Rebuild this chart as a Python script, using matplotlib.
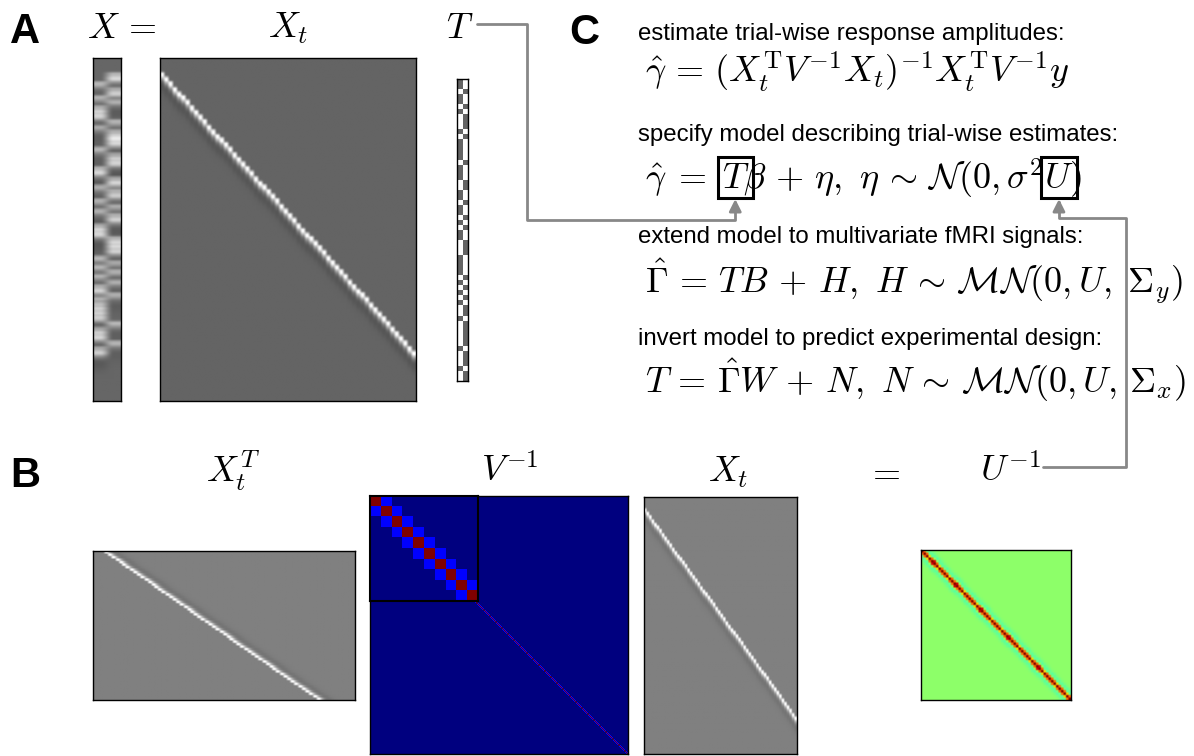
import numpy as np
import matplotlib.pyplot as plt
from matplotlib.patches import Rectangle, FancyArrowPatch
from matplotlib.path import Path

plt.rcParams['mathtext.fontset'] = 'cm'
plt.rcParams['font.family'] = ['Liberation Sans', 'DejaVu Sans']

W, H = 1194, 756

# canonical HRF sampled every 1 s
hrf = [0.0, 0.0031, 0.0361, 0.1008, 0.1563, 0.1755, 0.1605, 0.1272,
       0.0901, 0.0575, 0.0320, 0.0135, 0.0007, -0.0078, -0.0128, -0.0151,
       -0.0156, -0.0146, -0.0129, -0.0107, -0.0086, -0.0066, -0.0049,
       -0.0035, -0.0024, -0.0016, -0.0011, -0.0007, -0.0004]
n_scans = 300
first_onset = 10
# inter-trial intervals (s)
itis = [4, 4, 5, 4, 3, 4, 5, 4, 4, 4,
        5, 4, 4, 3, 4, 4, 5, 4, 4, 4,
        4, 5, 4, 3, 4, 4, 4, 5, 4, 4,
        4, 5, 4, 4, 3, 4, 4, 4, 5, 4,
        4, 4, 4, 5, 4, 4, 3, 4, 5, 4,
        4, 4, 4, 5, 4, 4, 4, 5, 4]
# condition of each trial (column of T)
conds = [1, 1, 0, 1, 1, 0, 1, 0, 0, 0,
         1, 0, 1, 1, 1, 1, 0, 1, 1, 1,
         0, 0, 1, 1, 0, 1, 1, 0, 1, 0,
         1, 1, 0, 0, 0, 1, 1, 1, 1, 0,
         1, 0, 1, 0, 1, 0, 0, 1, 0, 0,
         0, 0, 0, 1, 0, 0, 0, 1, 0, 0]
# AR(1)-type inverse covariance
v_diag = 1.0
v_off = 0.12

# build matrices
onsets = first_onset + np.concatenate([[0], np.cumsum(itis)])
n_trials = len(onsets)
Xt = np.zeros((n_scans, n_trials))
h = np.array(hrf)
for j, o in enumerate(onsets):
    n = min(len(h), n_scans - o)
    Xt[o:o + n, j] = h[:n]
T = np.zeros((n_trials, 2))
T[np.arange(n_trials), conds] = 1
X = Xt @ T
Vinv = (np.eye(n_scans) * v_diag + np.eye(n_scans, k=1) * v_off
        + np.eye(n_scans, k=-1) * v_off)
Uinv = Xt.T @ Vinv @ Xt

fig = plt.figure(figsize=(W / 100, H / 100), dpi=100)


def box(x0, y0, x1, y1):
    return [x0 / W, 1 - y1 / H, (x1 - x0) / W, (y1 - y0) / H]


def mat_ax(rect, lw=1.0):
    ax = fig.add_axes(rect)
    ax.set_xticks([])
    ax.set_yticks([])
    for s in ax.spines.values():
        s.set_linewidth(lw)
    return ax


def ftext(x, y, s, **kw):
    return fig.text(x / W, 1 - y / H, s, **kw)


# panel A
ax = mat_ax(box(93, 58, 121, 401))
ax.imshow(X, cmap='gray', vmin=-0.22, vmax=0.33, aspect='auto')
ax = mat_ax(box(160, 58, 416, 401))
ax.imshow(Xt, cmap='gray', vmin=-0.11, vmax=0.17, aspect='auto')
ax = mat_ax(box(457, 79, 468, 381))
ax.imshow(T, cmap='gray', vmin=-0.65, vmax=1, aspect='auto', interpolation='nearest')

# panel B
ax = mat_ax(box(93, 551, 355, 700))
ax.imshow(Xt.T, cmap='gray', vmin=-0.17, vmax=0.17, aspect='auto')
ax = mat_ax(box(370, 496, 628, 754))
ax.imshow(Vinv, cmap='jet', vmin=0, vmax=v_diag, aspect='auto',
          interpolation='nearest')
ax = mat_ax(box(370, 496, 478, 601), lw=1.5)
ax.imshow(Vinv[:10, :10], cmap='jet', vmin=0, vmax=v_diag, aspect='auto',
          interpolation='nearest')
ax = mat_ax(box(644, 497, 797, 754))
ax.imshow(Xt, cmap='gray', vmin=-0.17, vmax=0.17, aspect='auto')
ax = mat_ax(box(921, 550, 1071, 700))
ax.imshow(Uinv, cmap='jet', vmin=-0.12, vmax=0.11, aspect='auto')

# labels
for x, y, s in [(10, 43, 'A'), (10, 487, 'B'), (569, 44, 'C')]:
    ftext(x, y, s, fontsize=30, fontweight='bold', va='baseline')

ms = 26
ftext(87, 38, r'$X \,=$', fontsize=ms, va='baseline')
ftext(288, 38, r'$X_t$', fontsize=ms, va='baseline', ha='center')
ftext(446, 38, r'$T$', fontsize=ms, va='baseline')
ftext(233, 482, r'$X_t^T$', fontsize=ms, va='baseline', ha='center')
ftext(510, 482, r'$V^{-1}$', fontsize=ms, va='baseline', ha='center')
ftext(728, 482, r'$X_t$', fontsize=ms, va='baseline', ha='center')
ftext(883, 482, r'$=$', fontsize=ms, va='baseline', ha='center')
ftext(980, 482, r'$U^{-1}$', fontsize=ms, va='baseline')

# panel C
ts = 17.3
es = 26
ex = 645
lines = ['estimate trial-wise response amplitudes:',
         'specify model describing trial-wise estimates:',
         'extend model to multivariate fMRI signals:',
         'invert model to predict experimental design:']
eq2_pre_T = r'\hat{\gamma} \;=\; T'
eq2_pre_U = eq2_pre_T + r'\beta \,+\, \eta,\ \eta \,\sim\, \mathcal{N}(0, \sigma^2 U'
eqs = [r'$\hat{\gamma} \,=\, (X_t^{\mathrm{T}} V^{-1} X_t)^{-1} X_t^{\mathrm{T}} V^{-1} y$',
       '$' + eq2_pre_U + ')$',
       r'$\hat{\Gamma} \,=\, TB \,+\, H,\ H \,\sim\, \mathcal{MN}(0, U, \;\Sigma_y)$',
       r'$T \,=\, \hat{\Gamma}W \,+\, N,\ N \,\sim\, \mathcal{MN}(0, U, \,\Sigma_x)$']
text_base = [40, 141, 243, 345]
eq_base = [83, 190, 293, 393]
for s, e, yb, ye in zip(lines, eqs, text_base, eq_base):
    ftext(638, yb, s, fontsize=ts, va='baseline')
    ftext(ex, ye, e, fontsize=es, va='baseline')

# boxes around T and U in the second equation
r = fig.canvas.get_renderer()


def width(s):
    t = fig.text(0, 0, s, fontsize=es)
    w = t.get_window_extent(r).width
    t.remove()
    return w


boxes = []
for pre, sym in [(eq2_pre_T, 'T'), (eq2_pre_U, 'U')]:
    x1 = ex + width('$' + pre + '$') + 3
    x0 = x1 - width('$' + sym + '$') - 7
    boxes.append((x0, x1))
    fig.add_artist(Rectangle((x0 / W, 1 - 198 / H), (x1 - x0) / W, 41 / H,
                             transform=fig.transFigure, fill=False,
                             ec='black', lw=2.2))

# connectors
tx = (boxes[0][0] + boxes[0][1]) / 2
ux = (boxes[1][0] + boxes[1][1]) / 2
paths = [[(477, 24), (527, 24), (527, 220), (tx, 220), (tx, 199)],
         [(1043, 467), (1126, 467), (1126, 218), (ux, 218), (ux, 199)]]
for pts in paths:
    verts = [(x / W, 1 - y / H) for x, y in pts]
    p = Path(verts, [Path.MOVETO] + [Path.LINETO] * (len(verts) - 1))
    fig.add_artist(FancyArrowPatch(path=p, arrowstyle='-|>', mutation_scale=18,
                                   color='#888888', lw=2,
                                   transform=fig.transFigure))

fig.savefig('out.png', dpi=100)
